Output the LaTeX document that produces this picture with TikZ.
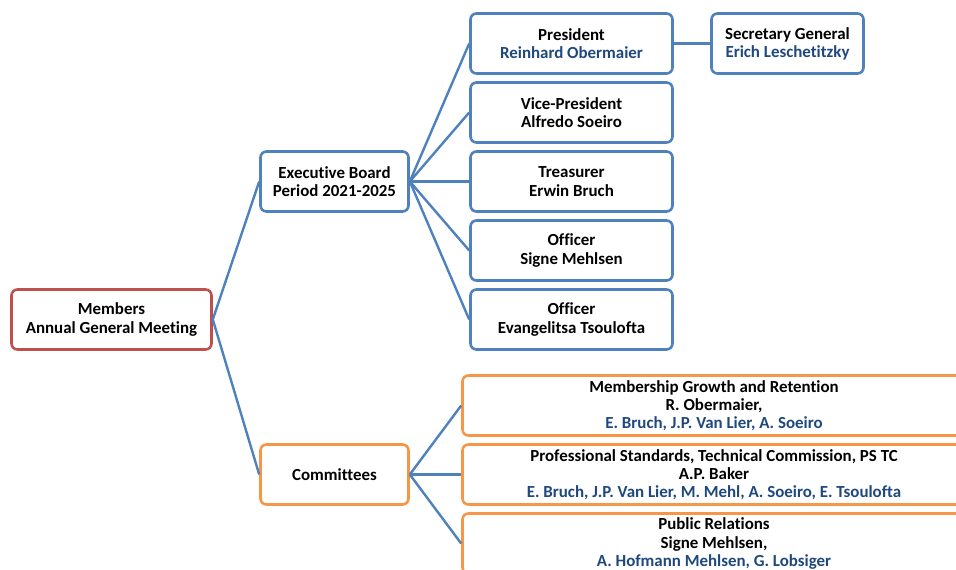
\documentclass[tikz,border=0pt]{standalone}
\usepackage{fontspec}
\setmainfont{Carlito}[Ligatures=NoCommon]
\definecolor{bl}{HTML}{4F81BD}
\definecolor{rd}{HTML}{C0504D}
\definecolor{og}{HTML}{F79646}
\definecolor{tx}{HTML}{1F497D}
\begin{document}
\begin{tikzpicture}[x=1pt,y=-1pt,
  box/.style={draw, line width=2.6pt, rounded corners=6pt, fill=white, align=center,
    font=\bfseries\fontsize{16.9}{18.2}\selectfont, inner sep=0pt, minimum height=60pt},
  bbox/.style={box, draw=bl},
  rbox/.style={box, draw=rd},
  obox/.style={box, draw=og},
  conn/.style={draw=bl, line width=2.4pt}]
\useasboundingbox (0,0) rectangle (956,570);
\clip (0,0) rectangle (956,570);
\node[rbox, minimum width=200pt] (mem) at (111.5,319.5) {Members\\Annual General Meeting};
\node[bbox, minimum width=148pt] (exec) at (334.5,181.5) {Executive Board\\Period 2021-2025};
\node[obox, minimum width=148pt] (com) at (334.5,474.5) {Committees};
\node[bbox, minimum width=202pt] (pres) at (571.5,43.5) {President\\\textcolor{tx}{Reinhard Obermaier}};
\node[bbox, minimum width=152pt] (sec) at (787.5,43.5) {Secretary General\\\textcolor{tx}{Erich Leschetitzky}};
\node[bbox, minimum width=202pt] (vp) at (571.5,112.5) {Vice-President\\Alfredo Soeiro};
\node[bbox, minimum width=202pt] (tr) at (571.5,181.5) {Treasurer\\Erwin Bruch};
\node[bbox, minimum width=202pt] (of1) at (571.5,250.5) {Officer\\Signe Mehlsen};
\node[bbox, minimum width=202pt] (of2) at (571.5,319.5) {Officer\\Evangelitsa Tsoulofta};
\node[obox, minimum width=503pt] (c1) at (714,405.5) {Membership Growth and Retention\\R. Obermaier,\\\textcolor{tx}{E. Bruch, J.P. Van Lier, A. Soeiro}};
\node[obox, minimum width=503pt] (c2) at (714,474.5) {Professional Standards, Technical Commission, PS TC\\A.P. Baker\\\textcolor{tx}{E. Bruch, J.P. Van Lier, M. Mehl, A. Soeiro, E. Tsoulofta}};
\node[obox, minimum width=503pt] (c3) at (714,543.5) {Public Relations\\Signe Mehlsen,\\\textcolor{tx}{A. Hofmann Mehlsen, G. Lobsiger}};
\path[conn] (mem.east) -- (exec.west);
\path[conn] (mem.east) -- (com.west);
\foreach \n in {pres,vp,tr,of1,of2} \path[conn] (exec.east) -- (\n.west);
\path[conn] (pres.east) -- (sec.west);
\foreach \n in {c1,c2,c3} \path[conn] (com.east) -- (\n.west);
\end{tikzpicture}
\end{document}
